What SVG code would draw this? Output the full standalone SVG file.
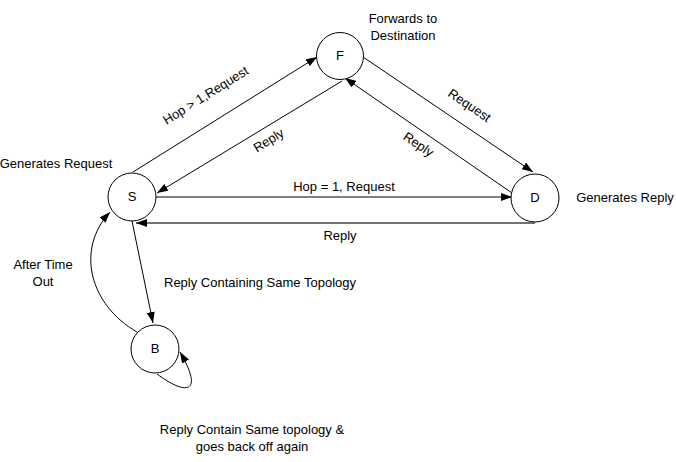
<svg xmlns="http://www.w3.org/2000/svg" width="676" height="462" viewBox="0 0 676 462">
<style>
.node circle{fill:#fff;stroke:#000;stroke-width:1}
text{font-family:"Liberation Sans",Arial,sans-serif;font-size:13px;fill:#000}
.c{text-anchor:middle}
.edge{fill:none;stroke:#000;stroke-width:1;marker-end:url(#ah)}
</style>
<defs>
<marker id="ah" markerWidth="11" markerHeight="8" refX="11" refY="4" orient="auto" markerUnits="userSpaceOnUse">
<path d="M0,0 L11,4 L0,8 z" fill="#000"/>
</marker>
</defs>
<g id="connectors">
<path class="edge" d="M133,172 L317,57"/>
<path class="edge" d="M342,81 L157,193"/>
<path class="edge" d="M363,57 L533,172"/>
<path class="edge" d="M512,193 L345,78"/>
<path class="edge" d="M155,197 L512,197"/>
<path class="edge" d="M535,223 L136,223" style="stroke:#444;stroke-width:1.5"/>
<path class="edge" d="M132,221 L153,323"/>
<path class="edge" d="M137,332 C90,305 75,250 110,212"/>
<path class="edge" d="M157,374 C185,395 205,395 180,352"/>
<text class="c" transform="translate(208,99) rotate(-32)">Hop &gt; 1,Request</text>
<text class="c" transform="translate(271,144) rotate(-32)">Reply</text>
<text class="c" transform="translate(467,109) rotate(34)">Request</text>
<text class="c" transform="translate(416,148) rotate(34)">Reply</text>
<text class="c" x="344" y="191">Hop = 1, Request</text>
<text class="c" x="340" y="240">Reply</text>
<text class="c" x="260" y="287">Reply Containing Same Topology</text>
<text class="c" x="43" y="269">After Time</text>
<text class="c" x="43" y="286">Out</text>
<text class="c" x="252" y="434">Reply Contain Same topology &amp;</text>
<text class="c" x="252" y="451">goes back off again</text>
</g>
<g id="S" class="node"><circle cx="132" cy="197" r="24"/><text class="c" x="132" y="201">S</text><text class="c" x="56" y="168">Generates Request</text></g>
<g id="F" class="node"><circle cx="340" cy="56" r="23.5"/><text class="c" x="340" y="60">F</text><text class="c" x="403" y="23">Forwards to</text><text class="c" x="403" y="40">Destination</text></g>
<g id="D" class="node"><circle cx="535" cy="198" r="24"/><text class="c" x="535" y="202">D</text><text class="c" x="625" y="202">Generates Reply</text></g>
<g id="B" class="node"><circle cx="155" cy="349" r="24"/><text class="c" x="155" y="353">B</text></g>
</svg>
